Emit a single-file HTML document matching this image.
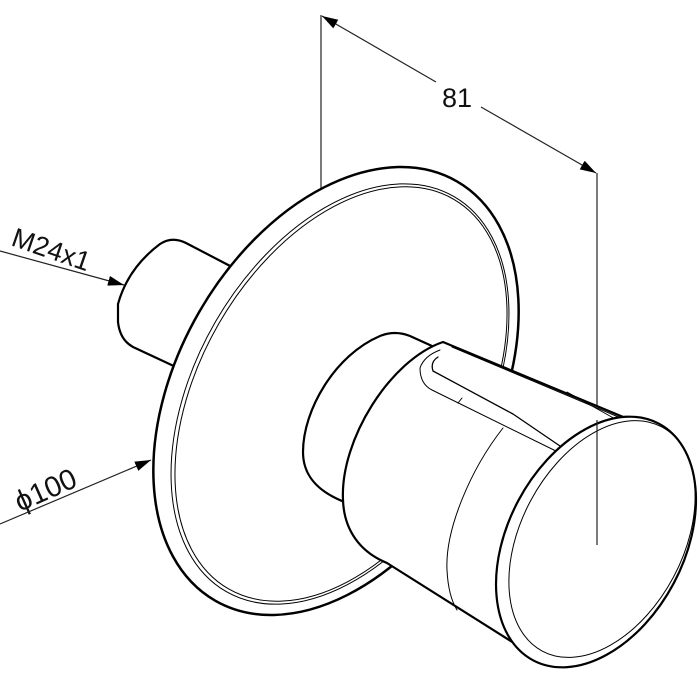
<!DOCTYPE html>
<html><head><meta charset="utf-8"><style>
html,body{margin:0;padding:0;background:#fff;}
svg{display:block;}
text{font-family:"Liberation Sans",sans-serif;fill:#111;}
</style></head><body>
<svg width="699" height="673" viewBox="0 0 699 673" xmlns="http://www.w3.org/2000/svg">
<defs>
<marker id="ar2" viewBox="0 0 16 10" markerWidth="16" markerHeight="10" refX="16" refY="5" orient="auto" markerUnits="userSpaceOnUse">
<path d="M0,0 L16,5 L0,10 Z" fill="#000"/>
</marker>
</defs>

<line x1="321" y1="15" x2="321" y2="190" stroke="#222" stroke-width="1.2"/>
<line x1="597" y1="173" x2="597" y2="545" stroke="#222" stroke-width="1.2"/>
<line x1="436" y1="82" x2="322" y2="16" stroke="#222" stroke-width="1.2" marker-end="url(#ar2)"/>
<line x1="481" y1="107" x2="596" y2="173" stroke="#222" stroke-width="1.2" marker-end="url(#ar2)"/>
<text x="457" y="107" font-size="27" text-anchor="middle">81</text>

<text x="0" y="0" font-size="27" transform="translate(10,245) rotate(19)">M24x1</text>
<line x1="0" y1="251" x2="124" y2="285" stroke="#222" stroke-width="1.2" marker-end="url(#ar2)"/>
<text x="0" y="0" font-size="29" transform="translate(20,512) rotate(-24)">ϕ100</text>
<line x1="0" y1="524" x2="151" y2="460" stroke="#222" stroke-width="1.2" marker-end="url(#ar2)"/>

<g fill="#fff" stroke="#000" stroke-linejoin="round" stroke-linecap="round">
<path d="M234,268 L186,243 Q172,236 160,244 Q128,268 118,304 L118,322 Q120,340 133,347 L178,368 Z" stroke-width="2.2"/>
<ellipse cx="336" cy="391" rx="158" ry="242" transform="rotate(30 336 391)" stroke-width="2.5"/>
<ellipse cx="340" cy="394" rx="144" ry="228" transform="rotate(30 340 394)" fill="none" stroke-width="1"/>
<ellipse cx="341" cy="394" rx="141" ry="225" transform="rotate(30 341 394)" fill="none" stroke-width="1"/>

<path d="M432,346 L410,336 Q395,330 380,336 C335,355 303,410 303,452 C303,476 318,491 342,501 L350,505 Z" stroke-width="2.2"/>
<path d="M443,342 L640,424 L560,560 L525,650 L387,563 C360,552 344,530 343,500 C340,440 390,360 443,342 Z" stroke-width="2.2"/>
<path d="M452,347 L628,421" fill="none" stroke-width="1"/>
<path d="M440,350 Q424,356 420,368 Q420,384 432,390 L562,454" fill="none" stroke-width="1"/>
<path d="M438,357 Q430,362 433,371 L513,414 L560,446" fill="none" stroke-width="1.3"/>
<path d="M462,398 L458,403" fill="none" stroke-width="1"/>
<path d="M567,392 L617,420" fill="none" stroke-width="1"/>
<path d="M503,428 C470,470 445,530 447,570 C448,590 452,602 457,610" fill="none" stroke-width="1"/>
<ellipse cx="596" cy="542" rx="88" ry="134" transform="rotate(28 596 542)" stroke-width="2.2"/>
<ellipse cx="602" cy="539" rx="81" ry="127" transform="rotate(28 602 539)" fill="none" stroke-width="1"/>
</g>
<line x1="597" y1="420" x2="597" y2="545" stroke="#222" stroke-width="1.2"/>
</svg>
</body></html>
